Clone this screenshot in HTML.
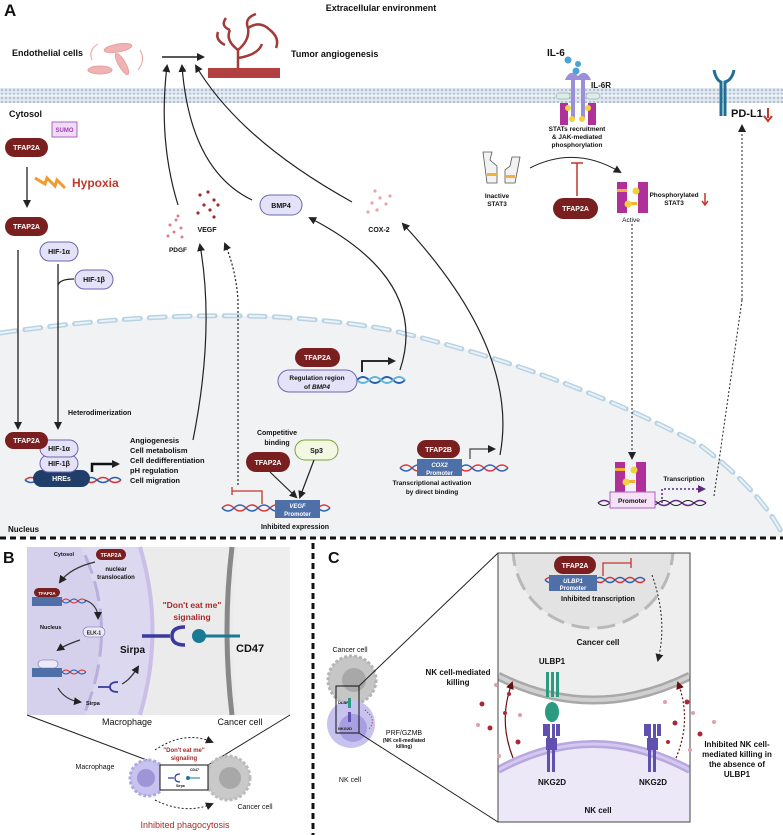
<!DOCTYPE html>
<html><head><meta charset="utf-8"><style>
html,body{margin:0;padding:0;background:#fff}
svg{display:block}
text{font-family:"Liberation Sans",sans-serif;font-weight:bold;fill:#111}
</style></head><body>
<svg width="783" height="835" viewBox="0 0 783 835" xmlns="http://www.w3.org/2000/svg">
<defs>
<marker id="ah" markerWidth="8" markerHeight="8" refX="6" refY="4" orient="auto" markerUnits="userSpaceOnUse"><path d="M0,0 L8,4 L0,8 z" fill="#222"/></marker>
<marker id="ahp" markerWidth="8" markerHeight="8" refX="6" refY="4" orient="auto" markerUnits="userSpaceOnUse"><path d="M0,0 L8,4 L0,8 z" fill="#5b2a86"/></marker>
<marker id="ahr" markerWidth="8" markerHeight="8" refX="6" refY="4" orient="auto" markerUnits="userSpaceOnUse"><path d="M0,0 L8,4 L0,8 z" fill="#6b1010"/></marker>
<pattern id="mem" width="4" height="4" patternUnits="userSpaceOnUse"><rect width="4" height="4" fill="#dfe6ee"/><circle cx="2" cy="2" r="1" fill="#9fb4c8"/></pattern>
<clipPath id="boxc"><rect x="498" y="553" width="192" height="269"/></clipPath>
</defs>

<!-- nucleus fill -->
<path d="M0,333 Q230,300 390,330 Q560,370 700,445 Q760,490 783,535 L783,537 L0,537 z" fill="#f1f2f3"/>
<path d="M0,333 Q230,300 390,330 Q560,370 700,445 Q760,490 783,535" fill="none" stroke="#b9d3e3" stroke-width="5" stroke-dasharray="16,9" stroke-linecap="round"/>
<path d="M0,333 Q230,300 390,330 Q560,370 700,445 Q760,490 783,535" fill="none" stroke="#e9f2f8" stroke-width="2" stroke-dasharray="16,9"/>

<!-- membrane -->
<rect x="0" y="88" width="783" height="15" fill="url(#mem)"/>
<line x1="0" y1="95.5" x2="783" y2="95.5" stroke="#eef2f6" stroke-width="2"/>

<text x="4" y="16" font-size="17">A</text>
<text x="381" y="11" font-size="9" text-anchor="middle">Extracellular environment</text>
<text x="12" y="56" font-size="9">Endothelial cells</text>
<g fill="#f0b3b3" stroke="#e8a0a0">
<ellipse cx="118" cy="48" rx="14" ry="4" transform="rotate(-10 118 48)"/>
<ellipse cx="122" cy="64" rx="12" ry="3.5" transform="rotate(60 122 64)"/>
<ellipse cx="100" cy="70" rx="12" ry="4"/>
<path d="M92,60 Q88,50 98,44" fill="none"/>
<path d="M140,50 Q146,60 138,70" fill="none"/>
</g>
<line x1="162" y1="57" x2="203" y2="57" stroke="#222" stroke-width="1.5" marker-end="url(#ah)"/>
<g stroke="#a33a3a" fill="none" stroke-width="2.5">
<path d="M238,70 L238,50 Q225,40 230,30 M238,50 Q250,40 248,28 M230,30 Q220,26 226,18 M248,28 Q260,20 270,30 Q280,38 276,48 M248,28 Q244,18 256,14 M238,58 Q258,55 262,44 M225,45 Q215,40 218,32"/>
</g>
<rect x="208" y="68" width="72" height="10" fill="#b24040"/>
<text x="291" y="57" font-size="9">Tumor angiogenesis</text>

<!-- IL-6 receptor -->
<text x="547" y="56" font-size="10">IL-6</text>
<circle cx="568" cy="60" r="3.5" fill="#4aa3d8"/><circle cx="578" cy="64" r="3" fill="#4aa3d8"/><circle cx="576" cy="71" r="3.5" fill="#4aa3d8"/>
<path d="M565,80 Q570,68 578,76 Q586,68 591,80" fill="#9a8fd8"/>
<rect x="571" y="78" width="4" height="40" fill="#9a8fd8"/><rect x="581" y="78" width="4" height="40" fill="#9a8fd8"/>
<text x="591" y="88" font-size="8">IL-6R</text>
<rect x="556" y="93" width="14" height="6" rx="3" fill="#d8efe8" stroke="#888" stroke-width="0.5"/>
<rect x="586" y="93" width="14" height="6" rx="3" fill="#d8efe8" stroke="#888" stroke-width="0.5"/>
<rect x="560" y="103" width="8" height="22" fill="#b0309a"/><rect x="588" y="103" width="8" height="22" fill="#b0309a"/>
<circle cx="568" cy="108" r="3" fill="#f1d23c"/><circle cx="588" cy="108" r="3" fill="#f1d23c"/><circle cx="572" cy="119" r="3" fill="#f1d23c"/><circle cx="582" cy="119" r="3" fill="#f1d23c"/>
<text x="577" y="131" font-size="6.5" text-anchor="middle">STATs recruitment</text>
<text x="577" y="139" font-size="6.5" text-anchor="middle">&amp; JAK-mediated</text>
<text x="577" y="147" font-size="6.5" text-anchor="middle">phosphorylation</text>

<!-- PD-L1 -->
<path d="M714,70 Q716,80 721,82 L721,116 M734,70 Q732,80 725,82 L725,116" stroke="#1f6f95" stroke-width="3" fill="none"/>
<text x="731" y="117" font-size="11">PD-L1</text>
<path d="M768,108 L768,118" stroke="#c0392b" stroke-width="2"/><path d="M764,116 L768,121 L772,116" fill="none" stroke="#c0392b" stroke-width="2"/>
<line x1="742" y1="300" x2="742" y2="126" stroke="#222" stroke-dasharray="2,2" marker-end="url(#ah)"/>

<!-- left column -->
<text x="9" y="117" font-size="9">Cytosol</text>
<rect x="52" y="122" width="25" height="15" fill="#f1dcf5" stroke="#b260c8"/>
<text x="64.5" y="132" font-size="6" text-anchor="middle" style="fill:#a040b8">SUMO</text>
<rect x="5" y="138" width="43" height="19" rx="9.5" fill="#7a1f1f"/>
<text x="26.5" y="150" font-size="7" text-anchor="middle" style="fill:#fff">TFAP2A</text>
<line x1="27" y1="167" x2="27" y2="206" stroke="#222" stroke-width="1.3" marker-end="url(#ah)"/>
<path d="M35,178 L45,184 L47,178 L55,186 L57,180 L65,188" stroke="#f29a2e" stroke-width="3" fill="none"/>
<text x="72" y="187" font-size="12" style="fill:#c0392b">Hypoxia</text>
<rect x="5" y="217" width="43" height="19" rx="9.5" fill="#7a1f1f"/>
<text x="26.5" y="229" font-size="7" text-anchor="middle" style="fill:#fff">TFAP2A</text>
<rect x="40" y="242" width="38" height="19" rx="9.5" fill="#e4e2f7" stroke="#6d66b0"/>
<text x="59" y="254" font-size="7" text-anchor="middle">HIF-1α</text>
<rect x="75" y="270" width="38" height="19" rx="9.5" fill="#e4e2f7" stroke="#6d66b0"/>
<text x="94" y="282" font-size="7" text-anchor="middle">HIF-1β</text>
<line x1="18" y1="250" x2="18" y2="428" stroke="#222" stroke-width="1.3" marker-end="url(#ah)"/>
<path d="M58,264 L58,428" stroke="#222" stroke-width="1.3" marker-end="url(#ah)"/>
<path d="M58,285 Q60,279 74,279" stroke="#222" fill="none" stroke-width="1.3"/>
<text x="68" y="415" font-size="7">Heterodimerization</text>

<!-- HIF complex -->
<path d="M25,480 q6,-5 12,0 t12,0 t12,0 t12,0 t12,0 t12,0 t12,0 t12,0" stroke="#d33" fill="none" stroke-width="1.5"/>
<path d="M25,480 q6,5 12,0 t12,0 t12,0 t12,0 t12,0 t12,0 t12,0 t12,0" stroke="#2a5fb0" fill="none" stroke-width="1.5"/>
<rect x="33" y="470" width="57" height="17" rx="8.5" fill="#1f3f6a"/>
<text x="61.5" y="481" font-size="7" text-anchor="middle" style="fill:#fff">HREs</text>
<rect x="40" y="455" width="38" height="17" rx="8.5" fill="#e4e2f7" stroke="#6d66b0"/>
<text x="59" y="466" font-size="7" text-anchor="middle">HIF-1β</text>
<rect x="40" y="440" width="38" height="17" rx="8.5" fill="#e4e2f7" stroke="#6d66b0"/>
<text x="59" y="451" font-size="7" text-anchor="middle">HIF-1α</text>
<rect x="5" y="432" width="43" height="17" rx="8.5" fill="#7a1f1f"/>
<text x="26.5" y="443" font-size="7" text-anchor="middle" style="fill:#fff">TFAP2A</text>
<path d="M92,472 L92,464 L118,464" stroke="#111" stroke-width="2.5" fill="none" marker-end="url(#ah)"/>
<g font-size="7.5"><text x="130" y="443">Angiogenesis</text><text x="130" y="453">Cell metabolism</text><text x="130" y="463">Cell dedifferentiation</text><text x="130" y="473">pH regulation</text><text x="130" y="483">Cell migration</text></g>

<!-- particles -->
<g fill="#e07a8e"><circle cx="170" cy="225" r="1.5"/><circle cx="176" cy="220" r="1.5"/><circle cx="181" cy="228" r="1.5"/><circle cx="174" cy="232" r="1.5"/><circle cx="168" cy="236" r="1.5"/><circle cx="182" cy="237" r="1.5"/><circle cx="178" cy="216" r="1.5"/></g>
<text x="178" y="252" font-size="6.5" text-anchor="middle">PDGF</text>
<g fill="#a52a2a"><circle cx="200" cy="195" r="1.6"/><circle cx="208" cy="192" r="1.6"/><circle cx="214" cy="200" r="1.6"/><circle cx="204" cy="205" r="1.6"/><circle cx="210" cy="210" r="1.6"/><circle cx="218" cy="205" r="1.6"/><circle cx="198" cy="213" r="1.6"/><circle cx="214" cy="217" r="1.6"/></g>
<text x="207" y="232" font-size="7" text-anchor="middle">VEGF</text>
<rect x="260" y="195" width="42" height="20" rx="10" fill="#e4e2f7" stroke="#6d66b0"/>
<text x="281" y="208" font-size="7" text-anchor="middle">BMP4</text>
<g fill="#f2a0b0"><circle cx="375" cy="191" r="1.6"/><circle cx="380" cy="198" r="1.6"/><circle cx="372" cy="203" r="1.6"/><circle cx="386" cy="204" r="1.6"/><circle cx="377" cy="210" r="1.6"/><circle cx="368" cy="212" r="1.6"/><circle cx="390" cy="196" r="1.6"/></g>
<text x="379" y="232" font-size="7" text-anchor="middle">COX-2</text>

<!-- arrows up to angiogenesis -->
<g stroke="#222" stroke-width="1.2" fill="none">
<path d="M178,205 Q158,140 167,66" marker-end="url(#ah)"/>
<path d="M252,200 Q190,170 182,66" marker-end="url(#ah)"/>
<path d="M352,202 Q240,140 196,66" marker-end="url(#ah)"/>
<path d="M193,440 Q215,330 200,245" marker-end="url(#ah)"/>
<path d="M238,485 L238,300 Q236,270 225,244" stroke-dasharray="2,2" marker-end="url(#ah)"/>
<path d="M400,370 Q430,280 310,218" marker-end="url(#ah)"/>
<path d="M500,455 Q520,350 403,224" marker-end="url(#ah)"/>
</g>

<!-- STAT3 -->
<path d="M483,152 L492,152 L490,160 L497,166 L497,183 L487,183 Z" fill="#f2f2f2" stroke="#555" stroke-width="0.8"/>
<path d="M520,157 L512,157 L510,166 L505,170 L505,183 L515,183 Z" fill="#f2f2f2" stroke="#555" stroke-width="0.8"/>
<rect x="487" y="173" width="10" height="3" fill="#f2b134"/><rect x="505" y="175" width="10" height="3" fill="#f2b134"/>
<text x="497" y="198" font-size="6.5" text-anchor="middle">Inactive</text>
<text x="497" y="206" font-size="6.5" text-anchor="middle">STAT3</text>
<path d="M530,168 Q575,145 620,172" stroke="#222" stroke-width="1" fill="none" marker-end="url(#ah)"/>
<line x1="577" y1="163" x2="577" y2="196" stroke="#c0392b" stroke-width="1.5"/><line x1="571" y1="163" x2="583" y2="163" stroke="#c0392b" stroke-width="1.5"/>
<rect x="553" y="198" width="45" height="21" rx="10.5" fill="#7a1f1f"/>
<text x="575.5" y="211" font-size="7" text-anchor="middle" style="fill:#fff">TFAP2A</text>
<rect x="617" y="182" width="10" height="31" fill="#b0309a"/><rect x="638" y="182" width="10" height="31" fill="#b0309a"/>
<rect x="617" y="189" width="10" height="3" fill="#f2b134"/><rect x="627" y="202" width="10" height="3" fill="#f2b134"/>
<circle cx="636" cy="191" r="3.5" fill="#f1d23c"/><circle cx="628" cy="204" r="3.5" fill="#f1d23c"/>
<text x="631" y="222" font-size="6.5" text-anchor="middle" style="font-weight:normal">Active</text>
<text x="674" y="197" font-size="6.5" text-anchor="middle">Phosphorylated</text>
<text x="674" y="205" font-size="6.5" text-anchor="middle">STAT3</text>
<path d="M705,193 L705,204" stroke="#c0392b" stroke-width="1.5"/><path d="M702,201 L705,205 L708,201" fill="none" stroke="#c0392b" stroke-width="1.5"/>
<line x1="632" y1="224" x2="632" y2="458" stroke="#222" stroke-dasharray="2,2" marker-end="url(#ah)"/>

<!-- BMP4 regulation -->
<path d="M357,380 q6,-6 12,0 t12,0 t12,0 t12,0" stroke="#2a5fb0" fill="none" stroke-width="1.8"/>
<path d="M357,380 q6,6 12,0 t12,0 t12,0 t12,0" stroke="#5bb5d5" fill="none" stroke-width="1.8"/>
<rect x="278" y="370" width="79" height="22" rx="11" fill="#e4e2f7" stroke="#6d66b0"/>
<text x="317" y="380" font-size="6.5" text-anchor="middle">Regulation region</text>
<text x="317" y="389" font-size="6.5" text-anchor="middle">of <tspan font-style="italic">BMP4</tspan></text>
<rect x="295" y="348" width="45" height="19" rx="9.5" fill="#7a1f1f"/>
<text x="317.5" y="360" font-size="7" text-anchor="middle" style="fill:#fff">TFAP2A</text>
<path d="M362,372 L362,361 L394,361" stroke="#111" stroke-width="1.8" fill="none" marker-end="url(#ah)"/>

<!-- VEGF promoter -->
<text x="277" y="435" font-size="7" text-anchor="middle">Competitive</text>
<text x="277" y="445" font-size="7" text-anchor="middle">binding</text>
<rect x="295" y="440" width="43" height="20" rx="10" fill="#f2f8e2" stroke="#7aa33a"/>
<text x="316.5" y="453" font-size="7" text-anchor="middle">Sp3</text>
<rect x="246" y="452" width="44" height="20" rx="10" fill="#7a1f1f"/>
<text x="268" y="465" font-size="7" text-anchor="middle" style="fill:#fff">TFAP2A</text>
<line x1="270" y1="472" x2="296" y2="497" stroke="#222" stroke-width="1.2" marker-end="url(#ah)"/>
<line x1="314" y1="460" x2="300" y2="497" stroke="#222" stroke-width="1.2" marker-end="url(#ah)"/>
<path d="M222,508 q6,-6 12,0 t12,0 t12,0 t12,0 t12,0 t12,0 t12,0 t12,0 t12,0" stroke="#d33" fill="none" stroke-width="1.5"/>
<path d="M222,508 q6,6 12,0 t12,0 t12,0 t12,0 t12,0 t12,0 t12,0 t12,0 t12,0" stroke="#2a5fb0" fill="none" stroke-width="1.5"/>
<rect x="275" y="500" width="45" height="18" fill="#4f6fa8"/>
<text x="297.5" y="508" font-size="6" text-anchor="middle" font-style="italic" style="fill:#fff">VEGF</text>
<text x="297.5" y="516" font-size="6" text-anchor="middle" style="fill:#fff">Promoter</text>
<path d="M262,504 L262,491 L232,491 M232,487 L232,495" stroke="#c0392b" stroke-width="1.3" fill="none"/>
<text x="295" y="529" font-size="7" text-anchor="middle">Inhibited expression</text>

<!-- COX2 promoter -->
<path d="M400,468 q6,-6 12,0 t12,0 t12,0 t12,0 t12,0 t12,0 t12,0 t12,0 t12,0" stroke="#d33" fill="none" stroke-width="1.5"/>
<path d="M400,468 q6,6 12,0 t12,0 t12,0 t12,0 t12,0 t12,0 t12,0 t12,0 t12,0" stroke="#2a5fb0" fill="none" stroke-width="1.5"/>
<rect x="417" y="459" width="45" height="17" fill="#4f6fa8"/>
<text x="439.5" y="467" font-size="6" text-anchor="middle" font-style="italic" style="fill:#fff">COX2</text>
<text x="439.5" y="475" font-size="6" text-anchor="middle" style="fill:#fff">Promoter</text>
<rect x="417" y="440" width="43" height="18" rx="9" fill="#7a1f1f"/>
<text x="438.5" y="452" font-size="7" text-anchor="middle" style="fill:#fff">TFAP2B</text>
<path d="M470,459 L470,449 L494,449" stroke="#444" stroke-width="1.2" fill="none" marker-end="url(#ah)"/>
<text x="432" y="485" font-size="6.5" text-anchor="middle">Transcriptional activation</text>
<text x="432" y="494" font-size="6.5" text-anchor="middle">by direct binding</text>

<!-- STAT3 promoter -->
<path d="M598,503 q6,-5 12,0 t12,0 t12,0 t12,0 t12,0 t12,0 t12,0 t12,0 t12,0" stroke="#6a2a8a" fill="none" stroke-width="1.5"/>
<path d="M598,503 q6,5 12,0 t12,0 t12,0 t12,0 t12,0 t12,0 t12,0 t12,0 t12,0" stroke="#222" fill="none" stroke-width="1"/>
<rect x="615" y="462" width="10" height="30" fill="#b0309a"/><rect x="636" y="462" width="10" height="30" fill="#b0309a"/>
<rect x="615" y="468" width="10" height="3" fill="#f2b134"/><rect x="625" y="480" width="10" height="3" fill="#f2b134"/>
<circle cx="634" cy="470" r="3.5" fill="#f1d23c"/><circle cx="626" cy="482" r="3.5" fill="#f1d23c"/>
<rect x="610" y="492" width="45" height="16" fill="#f6e2f6" stroke="#b060c0"/>
<text x="632.5" y="503" font-size="6.5" text-anchor="middle">Promoter</text>
<path d="M662,503 L662,489 L704,489" stroke="#5b2a86" stroke-width="1.5" stroke-dasharray="2,2" fill="none" marker-end="url(#ahp)"/>
<text x="684" y="481" font-size="6.5" text-anchor="middle">Transcription</text>
<line x1="742" y1="300" x2="714" y2="496" stroke="#222" stroke-dasharray="2,2"/>

<text x="8" y="532" font-size="8">Nucleus</text>
<line x1="0" y1="538" x2="783" y2="538" stroke="#111" stroke-width="3" stroke-dasharray="6,4"/>
<line x1="313" y1="543" x2="313" y2="835" stroke="#111" stroke-width="3" stroke-dasharray="6,4"/>

<!-- Panel B -->
<text x="3" y="563" font-size="16">B</text>
<rect x="27" y="547" width="263" height="168" fill="#ebebeb"/>
<path d="M27,547 L140,547 Q165,630 140,715 L27,715 Z" fill="#dcd8ef"/>
<path d="M140,547 Q165,630 140,715" stroke="#c9bfe8" stroke-width="4" fill="none"/>
<path d="M27,547 L80,547 Q118,630 85,715 L27,715 Z" fill="#d5d0ec"/>
<path d="M85,555 Q118,630 85,712" stroke="#b9aedc" stroke-width="3" fill="none" stroke-dasharray="20,8"/>
<path d="M232,547 Q222,630 232,715" stroke="#888" stroke-width="5" fill="none"/>
<path d="M238,547 Q228,630 238,715 L290,715 L290,547Z" fill="#eeeeee"/>
<text x="64" y="556" font-size="5.5" text-anchor="middle">Cytosol</text>
<rect x="96" y="549" width="30" height="11" rx="5.5" fill="#7a1f1f"/>
<text x="111" y="557" font-size="5.5" text-anchor="middle" style="fill:#fff">TFAP2A</text>
<text x="116" y="571" font-size="6" text-anchor="middle">nuclear</text>
<text x="116" y="579" font-size="6" text-anchor="middle">translocation</text>
<path d="M95,562 Q70,568 60,582" stroke="#333" stroke-width="1.2" fill="none" marker-end="url(#ah)"/>
<rect x="34" y="588" width="26" height="9" rx="4.5" fill="#7a1f1f"/>
<text x="47" y="595" font-size="4.5" text-anchor="middle" style="fill:#fff">TFAP2A</text>
<rect x="32" y="597" width="30" height="9" fill="#4f6fa8"/>
<path d="M62,601 q4,-4 8,0 t8,0 t8,0" stroke="#d33" fill="none"/><path d="M62,601 q4,4 8,0 t8,0 t8,0" stroke="#2a5fb0" fill="none"/>
<text x="40" y="629" font-size="5.5" style="font-weight:bold">Nucleus</text>
<path d="M85,600 Q98,605 98,618" stroke="#333" stroke-width="1.2" fill="none" marker-end="url(#ah)"/>
<rect x="83" y="627" width="22" height="10" rx="5" fill="#ece9f7" stroke="#6d66b0" stroke-width="0.6"/>
<text x="94" y="634.5" font-size="5" text-anchor="middle">ELK-1</text>
<path d="M80,640 Q65,645 58,650" stroke="#333" stroke-width="1.2" fill="none" marker-end="url(#ah)"/>
<rect x="38" y="660" width="20" height="8" rx="4" fill="#ece9f7" stroke="#6d66b0" stroke-width="0.6"/>
<rect x="32" y="668" width="30" height="9" fill="#4f6fa8"/>
<path d="M62,672 q4,-4 8,0 t8,0 t8,0" stroke="#d33" fill="none"/><path d="M62,672 q4,4 8,0 t8,0 t8,0" stroke="#2a5fb0" fill="none"/>
<path d="M58,688 Q65,700 80,702" stroke="#333" stroke-width="1.2" fill="none" marker-end="url(#ah)"/>
<text x="86" y="705" font-size="5.5">Sirpa</text>
<path d="M98,687 L110,687 M118,682 Q110,682 110,687 Q110,692 118,692" stroke="#3a3aa0" stroke-width="1.8" fill="none"/>
<path d="M122,684 Q130,680 138,667" stroke="#333" stroke-width="1.2" fill="none" marker-end="url(#ah)"/>
<text x="120" y="653" font-size="10">Sirpa</text>
<text x="192" y="608" font-size="8.5" text-anchor="middle" style="fill:#a52a2a">"Don't eat me"</text>
<text x="192" y="620" font-size="8.5" text-anchor="middle" style="fill:#a52a2a">signaling</text>
<path d="M142,636 L170,636 M185,627 Q172,627 172,636 Q172,645 185,645" stroke="#3a3aa0" stroke-width="3.5" fill="none"/>
<circle cx="199" cy="636" r="7" fill="#1a7a96"/><line x1="199" y1="636" x2="240" y2="636" stroke="#1a7a96" stroke-width="3"/>
<text x="236" y="652" font-size="11">CD47</text>
<line x1="27" y1="715" x2="160" y2="765" stroke="#222"/><line x1="290" y1="715" x2="208" y2="765" stroke="#222"/>
<text x="127" y="725" font-size="9" text-anchor="middle" style="font-weight:normal">Macrophage</text>
<text x="240" y="725" font-size="9" text-anchor="middle" style="font-weight:normal">Cancer cell</text>
<circle cx="148" cy="778" r="18" fill="#c8c2ee" stroke="#b0a8e0" stroke-dasharray="3,2" stroke-width="3"/>
<circle cx="146" cy="778" r="9" fill="#9e95d8"/>
<circle cx="228" cy="778" r="22" fill="#c9c9c9" stroke="#bbb" stroke-dasharray="3,2" stroke-width="3"/>
<circle cx="230" cy="778" r="11" fill="#a8a8a8"/>
<rect x="160" y="765" width="48" height="25" fill="#fff" stroke="#111"/>
<path d="M168,778 L174,778 M180,774 Q175,774 175,778 Q175,782 180,782" stroke="#3a3aa0" stroke-width="1.2" fill="none"/>
<circle cx="188" cy="778" r="2" fill="#1a7a96"/><line x1="188" y1="778" x2="200" y2="778" stroke="#1a7a96"/>
<text x="176" y="787" font-size="3.5">Sirpa</text><text x="190" y="771" font-size="3.5">CD47</text>
<text x="95" y="769" font-size="7" text-anchor="middle" style="font-weight:normal">Macrophage</text>
<text x="184" y="752" font-size="6" text-anchor="middle" style="fill:#a52a2a">"Don't eat me"</text>
<text x="184" y="760" font-size="6" text-anchor="middle" style="fill:#a52a2a">signaling</text>
<path d="M155,750 Q185,730 212,742" stroke="#222" stroke-dasharray="2,2" fill="none" marker-end="url(#ah)"/>
<path d="M155,800 Q185,815 212,804" stroke="#222" stroke-dasharray="2,2" fill="none" marker-end="url(#ah)"/>
<text x="255" y="809" font-size="7" text-anchor="middle" style="font-weight:normal">Cancer cell</text>
<text x="185" y="828" font-size="9" text-anchor="middle" style="fill:#a52a2a;font-weight:normal">Inhibited phagocytosis</text>

<!-- Panel C -->
<text x="328" y="563" font-size="16">C</text>
<text x="350" y="652" font-size="7" text-anchor="middle" style="font-weight:normal">Cancer cell</text>
<circle cx="352" cy="680" r="24" fill="#c6c6c6" stroke="#b5b5b5" stroke-dasharray="3,2" stroke-width="3"/>
<circle cx="354" cy="680" r="12" fill="#a8a8a8"/>
<circle cx="351" cy="724" r="24" fill="#c8c2ee"/>
<circle cx="353" cy="728" r="14" fill="#a79fe0"/>
<rect x="336" y="686" width="23" height="47" fill="none" stroke="#111"/>
<line x1="359" y1="686" x2="498" y2="553" stroke="#222"/><line x1="359" y1="733" x2="498" y2="822" stroke="#222"/>
<text x="338" y="704" font-size="4">ULBP1</text><text x="338" y="730" font-size="4">NKG2D</text>
<rect x="348" y="698" width="3" height="10" fill="#2a9a80"/><rect x="348" y="712" width="3" height="10" fill="#6050b0"/>
<path d="M365,710 Q378,720 368,730" stroke="#a52a2a" stroke-dasharray="1,2" fill="none"/>
<text x="404" y="735" font-size="7" text-anchor="middle" style="font-weight:normal">PRF/GZMB</text>
<text x="404" y="742" font-size="5" text-anchor="middle">(NK cell-mediated</text>
<text x="404" y="748" font-size="5" text-anchor="middle">killing)</text>
<text x="350" y="782" font-size="7" text-anchor="middle" style="font-weight:normal">NK cell</text>

<!-- big box -->
<g clip-path="url(#boxc)">
<rect x="498" y="553" width="192" height="269" fill="#fff"/>
<path d="M498,553 L690,553 L690,673 Q593,722 498,673 Z" fill="#eeeeee"/>
<circle cx="593" cy="548" r="80" fill="#e3e3e3"/>
<path d="M513,548 A80,80 0 0 0 673,548" stroke="#b8b8b8" stroke-width="3" fill="none" stroke-dasharray="18,8"/>
<path d="M498,676 Q593,724 690,676" stroke="#a8a8a8" stroke-width="9" fill="none"/>
<path d="M498,676 Q593,724 690,676" stroke="#d0d0d0" stroke-width="4" fill="none"/>
<path d="M498,770 Q593,718 690,770 L690,822 L498,822 Z" fill="#ece8f7"/>
<path d="M498,770 Q593,718 690,770" stroke="#b8a8e0" stroke-width="8" fill="none"/>
<path d="M498,770 Q593,718 690,770" stroke="#d4c8f0" stroke-width="3" fill="none"/>
</g>
<rect x="498" y="553" width="192" height="269" fill="none" stroke="#444" stroke-width="1"/>
<path d="M545,580 q5,-5 10,0 t10,0 t10,0 t10,0 t10,0 t10,0 t10,0 t10,0 t10,0 t10,0" stroke="#d33" fill="none" stroke-width="1.5"/>
<path d="M545,580 q5,5 10,0 t10,0 t10,0 t10,0 t10,0 t10,0 t10,0 t10,0 t10,0 t10,0" stroke="#2a5fb0" fill="none" stroke-width="1.5"/>
<rect x="549" y="575" width="48" height="16" fill="#4f6fa8"/>
<text x="573" y="583" font-size="6" text-anchor="middle" font-style="italic" style="fill:#fff">ULBP1</text>
<text x="573" y="590" font-size="6" text-anchor="middle" style="fill:#fff">Promoter</text>
<rect x="554" y="556" width="42" height="18" rx="9" fill="#7a1f1f"/>
<text x="575" y="568" font-size="7" text-anchor="middle" style="fill:#fff">TFAP2A</text>
<path d="M603,576 L603,563 L631,563 M631,558 L631,568" stroke="#c0392b" stroke-width="1.3" fill="none"/>
<text x="598" y="601" font-size="7" text-anchor="middle">Inhibited transcription</text>
<text x="598" y="645" font-size="8" text-anchor="middle">Cancer cell</text>
<path d="M652,575 Q668,620 658,660" stroke="#222" stroke-dasharray="2,2" fill="none" marker-end="url(#ah)"/>
<text x="552" y="664" font-size="8" text-anchor="middle">ULBP1</text>
<g fill="#2a9a80"><rect x="546" y="672" width="3" height="25"/><rect x="551" y="672" width="3" height="25"/><rect x="556" y="672" width="3" height="25"/><ellipse cx="552" cy="712" rx="7" ry="10"/></g>
<g fill="#6050b0"><rect x="547" y="724" width="3" height="48"/><rect x="552" y="724" width="3" height="48"/><rect x="543" y="724" width="4" height="12"/><rect x="556" y="724" width="4" height="12"/><rect x="546" y="738" width="11" height="12"/></g>
<g fill="#6050b0"><rect x="648" y="724" width="3" height="48"/><rect x="653" y="724" width="3" height="48"/><rect x="644" y="724" width="4" height="12"/><rect x="657" y="724" width="4" height="12"/><rect x="647" y="738" width="11" height="12"/></g>
<text x="552" y="785" font-size="8" text-anchor="middle">NKG2D</text>
<text x="653" y="785" font-size="8" text-anchor="middle">NKG2D</text>
<text x="598" y="813" font-size="8" text-anchor="middle">NK cell</text>
<path d="M513,758 Q498,720 512,683" stroke="#6b1010" stroke-width="1.2" fill="none" marker-end="url(#ahr)"/>
<path d="M676,758 Q692,720 678,683" stroke="#6b1010" stroke-width="1.2" stroke-dasharray="2,2" fill="none" marker-end="url(#ahr)"/>
<g fill="#a82a3a"><circle cx="482" cy="704" r="2.5"/><circle cx="490" cy="728" r="2.5"/><circle cx="505" cy="713" r="2"/><circle cx="518" cy="742" r="2.5"/><circle cx="509" cy="694" r="2"/><circle cx="687" cy="702" r="2.5"/><circle cx="675" cy="723" r="2.5"/><circle cx="700" cy="734" r="2.5"/><circle cx="668" cy="742" r="2"/></g>
<g fill="#e0a0a8"><circle cx="496" cy="685" r="2"/><circle cx="478" cy="725" r="2"/><circle cx="520" cy="715" r="2"/><circle cx="499" cy="756" r="2"/><circle cx="665" cy="702" r="2"/><circle cx="693" cy="713" r="2"/><circle cx="690" cy="750" r="2"/><circle cx="714" cy="722" r="2"/></g>
<text x="458" y="675" font-size="8" text-anchor="middle">NK cell-mediated</text>
<text x="458" y="685" font-size="8" text-anchor="middle">killing</text>
<text x="737" y="747" font-size="8" text-anchor="middle">Inhibited NK cell-</text>
<text x="737" y="757" font-size="8" text-anchor="middle">mediated killing in</text>
<text x="737" y="767" font-size="8" text-anchor="middle">the absence of</text>
<text x="737" y="777" font-size="8" text-anchor="middle">ULBP1</text>
</svg>
</body></html>
